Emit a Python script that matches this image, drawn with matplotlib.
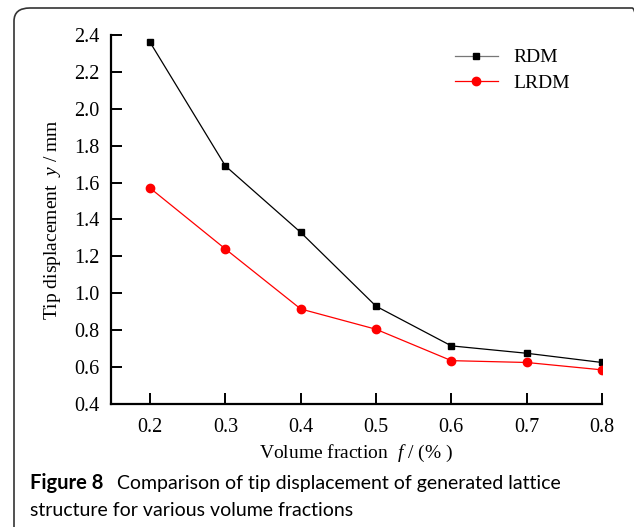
import matplotlib.pyplot as plt
from matplotlib.patches import FancyBboxPatch

vol_frac = [0.2, 0.3, 0.4, 0.5, 0.6, 0.7, 0.8]
rdm = [2.36, 1.69, 1.33, 0.93, 0.715, 0.675, 0.625]
lrdm = [1.57, 1.24, 0.915, 0.805, 0.635, 0.625, 0.585]
yticks = [0.4, 0.6, 0.8, 1.0, 1.2, 1.4, 1.6, 1.8, 2.0, 2.2, 2.4]

plt.rcParams['font.family'] = 'Liberation Serif'
plt.rcParams['mathtext.fontset'] = 'custom'
plt.rcParams['mathtext.it'] = 'Liberation Serif:italic'
plt.rcParams['mathtext.rm'] = 'Liberation Serif'

fig = plt.figure(figsize=(6.34, 5.27), dpi=100)

# rounded caption frame
frame = FancyBboxPatch((14 / 634, -0.05), 1.0, 1 - 8 / 527 + 0.05,
                       boxstyle='round,pad=0,rounding_size=0.025',
                       transform=fig.transFigure, fill=False,
                       edgecolor='#333333', linewidth=1.2)
fig.patches.append(frame)

ax = fig.add_axes([0.175, 0.2334, 0.7745, 0.7002])
ax.plot(vol_frac, rdm, color='black', lw=0.9, marker='s', ms=5,
        mfc='black', mec='black', label='RDM')
ax.plot(vol_frac, lrdm, color='red', lw=0.9, marker='o', ms=6,
        label='LRDM')

ax.set_xlim(0.148, 0.8)
ax.set_ylim(0.4, 2.4)
ax.set_xticks(vol_frac)
ax.set_xticklabels(['%.1f' % v for v in vol_frac])
ax.set_yticks(yticks)
ax.set_yticklabels(['%.1f' % v for v in yticks])
ax.spines['top'].set_visible(False)
ax.spines['right'].set_visible(False)
ax.spines['left'].set_linewidth(1.6)
ax.spines['bottom'].set_linewidth(1.6)
ax.tick_params(direction='in', length=8, width=1.4, labelsize=14.5)
ax.tick_params(axis='x', pad=10)
ax.tick_params(axis='y', pad=8)

ax.set_xlabel('Volume fraction  $f$ / (% )', fontsize=14, labelpad=4)
ax.set_ylabel('Tip displacement  $y$ / mm', fontsize=14, labelpad=8)

leg = ax.legend(loc='upper right', bbox_to_anchor=(0.97, 1.01),
                frameon=False, fontsize=14, handlelength=2.2,
                handletextpad=0.8, labelspacing=0.4)
leg.get_lines()[0].set_color('#777777')

fig.text(30 / 634, 1 - 483 / 527, 'Figure 8', family='Lato',
         weight='bold', fontsize=14.5, va='center')
fig.text(117 / 634, 1 - 483 / 527,
         'Comparison of tip displacement of generated lattice',
         family='Lato', fontsize=14, va='center')
fig.text(30 / 634, 1 - 510 / 527, 'structure for various volume fractions',
         family='Lato', fontsize=14, va='center')

fig.savefig('out.png', dpi=100)
